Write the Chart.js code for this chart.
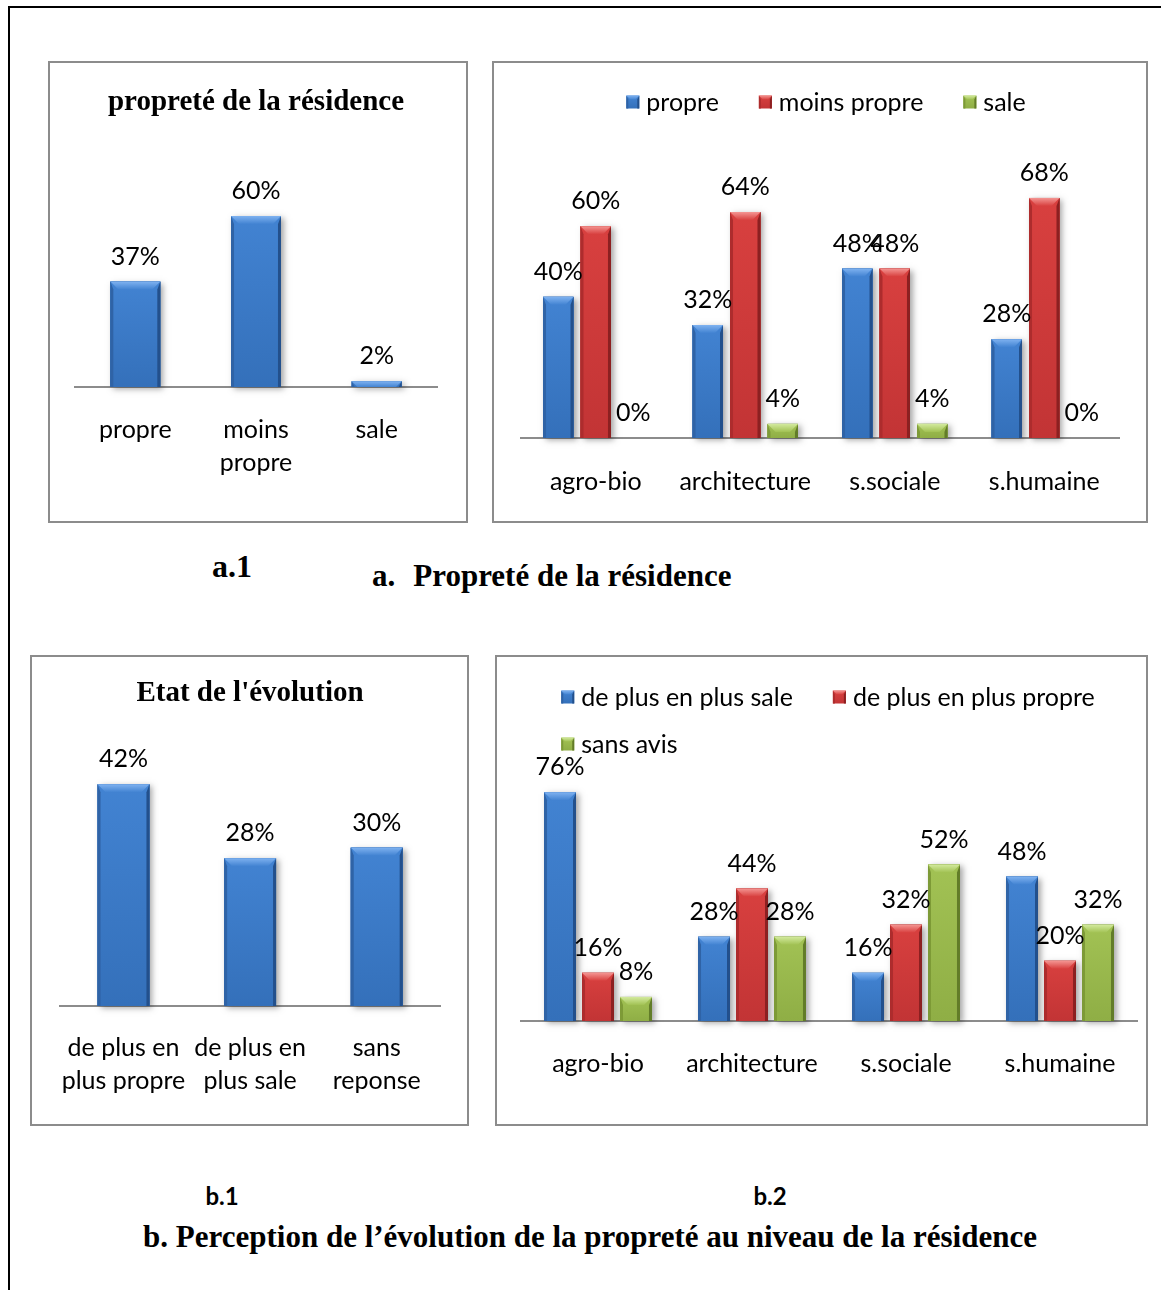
<!DOCTYPE html>
<html lang="fr">
<head>
<meta charset="UTF-8">
<title>Propreté de la résidence</title>
<script src="https://cdn.jsdelivr.net/npm/chart.js"></script>
<style>
    body {
        margin: 0;
        background: #fff;
    }
    .page {
        position: relative;
        width: 1161px;
        height: 1290px;
        overflow: hidden;
    }
    .frame {
        position: absolute;
        left: 8px;
        top: 6px;
        width: 1300px;
        height: 1400px;
        border-top: 2px solid #000;
        border-left: 2px solid #000;
    }
    .panel {
        position: absolute;
        box-sizing: border-box;
        border: 2px solid #8c8c8c;
        background: #fff;
    }
    .panel canvas {
        display: block;
    }
    .cap {
        position: absolute;
        transform: translate(-50%, -50%);
        white-space: nowrap;
        color: #000;
        font-family: "Liberation Serif", serif;
        font-weight: bold;
        font-size: 31px;
    }
    .cap.left {
        transform: translate(0, -50%);
    }
    .cap.sans {
        font-family: Lato, sans-serif;
        font-size: 24px;
    }
</style>
</head>
<body>
<div class="page">
    <div class="frame"></div>

    <div class="panel" style="left:48px; top:61px; width:420px; height:462px;">
        <canvas id="chartA1" width="416" height="458"></canvas>
    </div>
    <div class="panel" style="left:492px; top:61px; width:656px; height:462px;">
        <canvas id="chartA2" width="652" height="458"></canvas>
    </div>
    <div class="panel" style="left:30px; top:655px; width:439px; height:471px;">
        <canvas id="chartB1" width="435" height="467"></canvas>
    </div>
    <div class="panel" style="left:495px; top:655px; width:653px; height:471px;">
        <canvas id="chartB2" width="649" height="467"></canvas>
    </div>

    <div class="cap" style="left:232px; top:566px; font-size:32px;">a.1</div>
    <div class="cap left" style="left:372px; top:576px;">a.<span style="margin-left:18px;">Propreté de la résidence</span></div>
    <div class="cap sans" style="left:222px; top:1195px;">b.1</div>
    <div class="cap sans" style="left:770px; top:1195px;">b.2</div>
    <div class="cap" style="left:590px; top:1237px;">b. Perception de l’évolution de la propreté au niveau de la résidence</div>
</div>

<script>
    // a.1 - propreté de la résidence
    const a1Labels = ['propre', ['moins', 'propre'], 'sale'];
    const a1Values = [37, 60, 2];

    // a.2 - par faculté
    const facultes = ['agro-bio', 'architecture', 's.sociale', 's.humaine'];
    const a2Propre = [40, 32, 48, 28];
    const a2MoinsPropre = [60, 64, 48, 68];
    const a2Sale = [0, 4, 4, 0];

    // b.1 - état de l'évolution
    const b1Labels = [['de plus en', 'plus propre'], ['de plus en', 'plus sale'], ['sans', 'reponse']];
    const b1Values = [42, 28, 30];

    // b.2 - par faculté
    const b2PlusSale = [76, 28, 16, 48];
    const b2PlusPropre = [16, 44, 32, 20];
    const b2SansAvis = [8, 28, 52, 32];

    const palettes = {
        blue:  { top: '#7fb2f0', mid: '#4283d2', low: '#3470ba', side: '#2f63a6', dark: '#23508c' },
        red:   { top: '#f49592', mid: '#d8403f', low: '#c23435', side: '#ad2c2d', dark: '#8c2021' },
        green: { top: '#d3ea9e', mid: '#a2c254', low: '#8fae45', side: '#7d9a37', dark: '#627c28' }
    };

    function poly(ctx, pts, fill) {
        ctx.beginPath();
        ctx.moveTo(pts[0][0], pts[0][1]);
        for (let i = 1; i < pts.length; i++) ctx.lineTo(pts[i][0], pts[i][1]);
        ctx.closePath();
        ctx.fillStyle = fill;
        ctx.fill();
    }

    // bar with an Office style bevel on top
    function drawBevelBar(ctx, l, t, r, b, pal, bev, side) {
        const w = r - l, h = b - t;
        if (h < 0.5 || w <= 0) return;
        const k = Math.min(bev, w / 2.5, h);
        const s = Math.min(side, w / 6);
        let g = ctx.createLinearGradient(0, t, 0, b);
        g.addColorStop(0, pal.mid);
        g.addColorStop(1, pal.low);
        ctx.fillStyle = g;
        ctx.fillRect(l, t, w, h);
        poly(ctx, [[l, t], [l + s, t + k], [l + s, b], [l, b]], pal.side);
        poly(ctx, [[r, t], [r - s, t + k], [r - s, b], [r, b]], pal.dark);
        g = ctx.createLinearGradient(0, t, 0, t + k);
        g.addColorStop(0, pal.top);
        g.addColorStop(1, pal.mid);
        poly(ctx, [[l, t], [r, t], [r - k, t + k], [l + k, t + k]], g);
    }

    function barRects(chart) {
        const out = [];
        chart.data.datasets.forEach((ds, i) => {
            chart.getDatasetMeta(i).data.forEach((el, j) => {
                const p = el.getProps(['x', 'y', 'base', 'width'], true);
                out.push({
                    l: p.x - p.width / 2, r: p.x + p.width / 2,
                    t: Math.min(p.y, p.base), b: Math.max(p.y, p.base),
                    x: p.x, pal: palettes[ds.pal], value: ds.data[j]
                });
            });
        });
        return out;
    }

    const bevelBars = {
        id: 'bevelBars',
        afterDatasetsDraw(chart) {
            const ctx = chart.ctx;
            const bars = barRects(chart);
            ctx.save();
            ctx.shadowColor = 'rgba(0,0,0,0.35)';
            ctx.shadowBlur = 6;
            ctx.shadowOffsetX = 3;
            ctx.shadowOffsetY = 2;
            bars.forEach(b => {
                if (b.b - b.t < 0.5) return;
                ctx.fillStyle = b.pal.dark;
                ctx.fillRect(b.l, b.t, b.r - b.l, b.b - b.t);
            });
            ctx.restore();
            bars.forEach(b => drawBevelBar(ctx, b.l, b.t, b.r, b.b, b.pal, 8, 3));

            // value labels
            ctx.save();
            ctx.font = '25px Lato';
            ctx.fillStyle = '#000';
            ctx.textAlign = 'center';
            ctx.textBaseline = 'middle';
            bars.forEach(b => ctx.fillText(b.value + '%', b.x, b.t - 25));
            ctx.restore();
        }
    };

    function boxLegend(cfg) {
        return {
            id: 'boxLegend',
            afterDraw(chart) {
                const ctx = chart.ctx;
                const ds = chart.data.datasets;
                ctx.save();
                ctx.font = '25px Lato';
                ctx.textBaseline = 'middle';
                const itemW = i => cfg.box + cfg.boxGap + ctx.measureText(ds[i].label).width;
                const firstRow = cfg.rows[0];
                const rowW = firstRow.reduce((s, i, k) => s + itemW(i) + (k ? cfg.gap : 0), 0);
                const startX = cfg.cx - rowW / 2;
                cfg.rows.forEach((row, r) => {
                    let x = startX;
                    const y = cfg.y + r * cfg.rowGap;
                    row.forEach(i => {
                        const h = cfg.box / 2;
                        drawBevelBar(ctx, x, y - h, x + cfg.box, y + h, palettes[ds[i].pal], 4, 2);
                        ctx.fillStyle = '#000';
                        ctx.fillText(ds[i].label, x + cfg.box + cfg.boxGap, y + 1);
                        x += itemW(i) + cfg.gap;
                    });
                });
                ctx.restore();
            }
        };
    }

    function makeChart(id, o) {
        const plugins = [bevelBars];
        if (o.legend) plugins.push(boxLegend(o.legend));
        const chart = new Chart(document.getElementById(id), {
            type: 'bar',
            data: {
                labels: o.labels,
                datasets: o.series.map(s => ({
                    label: s.label,
                    data: s.data,
                    pal: s.pal,
                    backgroundColor: palettes[s.pal].mid,
                    borderWidth: 0,
                    categoryPercentage: o.catPct,
                    barPercentage: o.barPct
                }))
            },
            options: {
                responsive: false,
                animation: false,
                events: [],
                devicePixelRatio: 1,
                layout: { padding: o.padding },
                plugins: {
                    legend: { display: false },
                    tooltip: { enabled: false },
                    title: o.title ? {
                        display: true,
                        text: o.title,
                        color: '#000',
                        font: { family: 'Liberation Serif', weight: 'bold', size: 29, lineHeight: 1.2 },
                        padding: { top: o.titleTop, bottom: 10 }
                    } : { display: false }
                },
                scales: {
                    x: {
                        grid: { display: false, drawTicks: false },
                        border: { display: true, color: '#8c8c8c', width: 2 },
                        ticks: {
                            color: '#000',
                            font: { family: 'Lato', size: 25, lineHeight: o.tickLine },
                            padding: o.tickPad,
                            autoSkip: false,
                            maxRotation: 0
                        },
                        afterFit: s => { s.height = o.axisH; }
                    },
                    y: { display: false, min: 0, max: 100 }
                }
            },
            plugins: plugins
        });
        // fix the value scale so that one percent takes o.pxPer pixels
        const area = chart.chartArea;
        chart.options.scales.y.max = (area.bottom - area.top) / o.pxPer;
        chart.update();
        return chart;
    }

    document.fonts.load('25px Lato').then(() => document.fonts.load('bold 29px "Liberation Serif"')).finally(() => {
        makeChart('chartA1', {
            labels: a1Labels,
            series: [{ label: 'propreté', data: a1Values, pal: 'blue' }],
            title: 'propreté de la résidence',
            titleTop: 22,
            padding: { left: 25, right: 29, top: 0, bottom: 0 },
            axisH: 134, tickPad: 27, tickLine: 1.3,
            pxPer: 2.85, catPct: 0.414, barPct: 1
        });

        makeChart('chartA2', {
            labels: facultes,
            series: [
                { label: 'propre', data: a2Propre, pal: 'blue' },
                { label: 'moins propre', data: a2MoinsPropre, pal: 'red' },
                { label: 'sale', data: a2Sale, pal: 'green' }
            ],
            legend: { rows: [[0, 1, 2]], y: 39, rowGap: 47, cx: 332, gap: 40, box: 13, boxGap: 7 },
            padding: { left: 27, right: 27, top: 90, bottom: 0 },
            axisH: 83, tickPad: 28, tickLine: 1.3,
            pxPer: 3.53, catPct: 0.752, barPct: 0.813
        });

        makeChart('chartB1', {
            labels: b1Labels,
            series: [{ label: 'évolution', data: b1Values, pal: 'blue' }],
            title: "Etat de l'évolution",
            titleTop: 19,
            padding: { left: 28, right: 27, top: 0, bottom: 0 },
            axisH: 118, tickPad: 25, tickLine: 1.34,
            pxPer: 5.28, catPct: 0.41, barPct: 1
        });

        makeChart('chartB2', {
            labels: facultes,
            series: [
                { label: 'de plus en plus sale', data: b2PlusSale, pal: 'blue' },
                { label: 'de plus en plus propre', data: b2PlusPropre, pal: 'red' },
                { label: 'sans avis', data: b2SansAvis, pal: 'green' }
            ],
            legend: { rows: [[0, 1], [2]], y: 40, rowGap: 47, cx: 331, gap: 40, box: 13, boxGap: 7 },
            padding: { left: 24, right: 9, top: 110, bottom: 0 },
            axisH: 103, tickPad: 27, tickLine: 1.3,
            pxPer: 3.01, catPct: 0.74, barPct: 0.842
        });
    });
</script>
</body>
</html>
